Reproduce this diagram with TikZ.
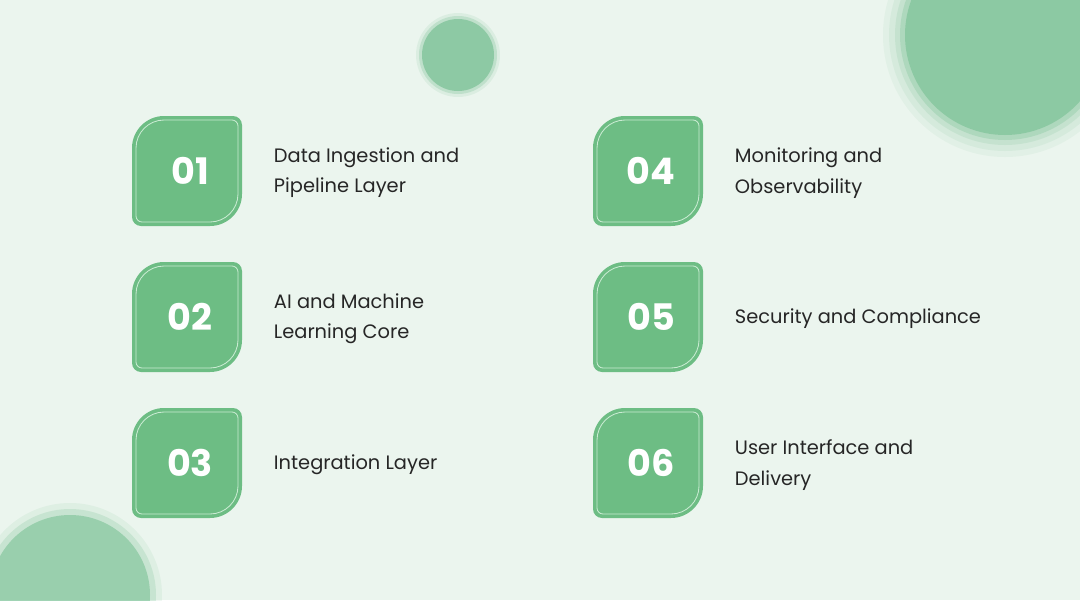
\documentclass[tikz,border=0pt]{standalone}
\usepackage{fontspec}
\setmainfont{Poppins}
\definecolor{bgc}{HTML}{EBF5EE}
\definecolor{leaf}{HTML}{6DBD84}
\definecolor{leafline}{HTML}{C9EBD2}
\definecolor{blob}{HTML}{6CBB8A}
% leaf outline: centre, half size, big radius, small radius
\newcommand{\leafpath}[5]{(#1-#3,#2-#3+#4) .. controls (#1-#3,#2-#3+0.45*#4) and (#1-#3+0.45*#4,#2-#3) .. (#1-#3+#4,#2-#3)
  -- (#1+#3-#5,#2-#3) .. controls (#1+#3-0.45*#5,#2-#3) and (#1+#3,#2-#3+0.45*#5) .. (#1+#3,#2-#3+#5)
  -- (#1+#3,#2+#3-#4) .. controls (#1+#3,#2+#3-0.45*#4) and (#1+#3-0.45*#4,#2+#3) .. (#1+#3-#4,#2+#3)
  -- (#1-#3+#5,#2+#3) .. controls (#1-#3+0.45*#5,#2+#3) and (#1-#3,#2+#3-0.45*#5) .. (#1-#3,#2+#3-#5) -- cycle}
\begin{document}
\begin{tikzpicture}[x=0.025cm,y=-0.025cm]
  \tikzset{
    num/.style={text=white,font=\bfseries\fontsize{26}{30}\selectfont},
    lbl/.style={anchor=west,align=left,text=black!85,font=\fontsize{13.8}{21.5}\selectfont}
  }
  % background and blobs
  \fill[bgc] (0,0) rectangle (1080,600);
  \useasboundingbox (0,0) rectangle (1080,600);
  \foreach \r/\o in {122/0.08,116/0.1,110/0.15,105/0.25,100/0.5}
    \fill[blob,opacity=\o] (1005,35) circle (\r);
  \foreach \r/\o in {42/0.12,39/0.25,36/0.6}
    \fill[blob,opacity=\o] (458,55) circle (\r);
  \foreach \r/\o in {92/0.1,86/0.2,80/0.5}
    \fill[blob,opacity=\o] (70,595) circle (\r);
  % leaf badges
  \foreach \cx/\cy/\n/\t in {187/171/01/{Data Ingestion and\\Pipeline Layer},
      187/317/02/{AI and Machine\\Learning Core},
      187/463/03/{Integration Layer},
      648/171/04/{Monitoring and\\Observability},
      648/317/05/{Security and Compliance},
      648/463/06/{User Interface and\\Delivery}}{
    \fill[leaf] \leafpath{\cx}{\cy}{55}{32}{9};
    \draw[leafline,line width=0.6pt] \leafpath{\cx}{\cy}{51}{28}{6};
    \node[num] (b\n) at (\cx+3,\cy) {\n};
    \node[lbl] (t\n) at (\cx+82,\cy+2) {\t};
  }
\end{tikzpicture}
\end{document}
